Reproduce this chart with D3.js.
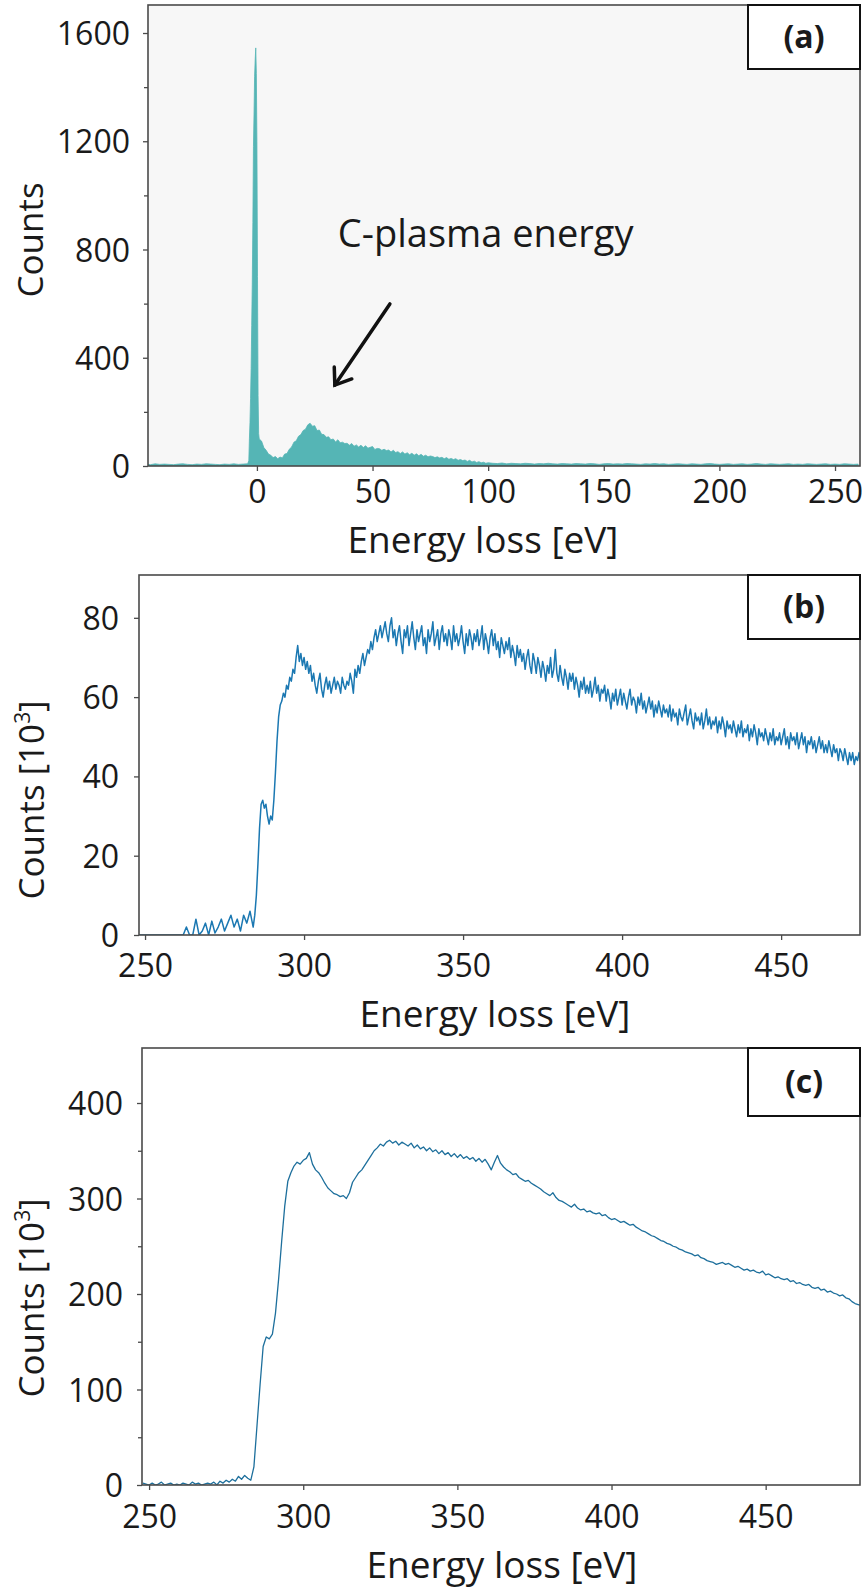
<!DOCTYPE html>
<html>
<head>
<meta charset="utf-8">
<script src="https://cdn.jsdelivr.net/npm/d3@7"></script>
<style>
  body { margin: 0; background: #ffffff; }
  svg text { font-family: "Open Sans", Lato, "Noto Sans", sans-serif; fill: #1a1a1a; }
</style>
</head>
<body>
<svg id="fig" width="862" height="1591"></svg>
<script>
// ---------- (a) low-loss spectrum: counts vs energy loss [eV] ----------
const energyA = [].concat(
  d3.range(-50, -3, 2),
  [-3.5, -3.25, -3, -2.75, -2.5, -2.25, -2, -1.75, -1.5, -1.25, -1, -0.75, -0.5, -0.25, 0, 0.25, 0.5, 0.75, 1],
  d3.range(2, 101, 1),
  d3.range(102, 261, 2)
);
const countsA = [
  // -50 .. -4
  6, 7, 5, 8, 6, 7, 6, 5, 7, 8, 6, 5, 7, 6, 8, 7, 6, 5, 7, 6, 8, 6, 7, 8,
  // zero-loss peak
  20, 100, 160, 250, 360, 520, 680, 900, 1180, 1300, 1440, 1500, 1545, 1450, 1200, 700, 260, 120, 100,
  // 2 .. 100
  92, 68, 58, 44, 40, 31, 35, 27, 33, 30,
  44, 46, 62, 70, 88, 93, 110, 116, 131, 136,
  152, 158, 147, 149, 131, 133, 117, 116, 106, 108,
  97, 100, 89, 97, 86, 88, 83, 84, 77, 83,
  73, 78, 70, 77, 68, 75, 66, 69, 72, 61,
  65, 64, 58, 62, 57, 59, 52, 58, 50, 53,
  46, 52, 44, 49, 42, 47, 40, 45, 38, 43,
  36, 40, 34, 37, 35, 31, 34, 30, 32, 27,
  31, 25, 28, 24, 27, 21, 24, 20, 22, 17,
  21, 15, 18, 13, 16, 12, 14, 10, 12,
  // 102 .. 260
  10, 9, 11, 8, 10, 9, 8, 10, 9, 7, 9, 8, 10, 8, 7, 9, 8, 7, 9, 8,
  7, 9, 8, 6, 8, 9, 7, 8, 7, 9, 8, 7, 6, 8, 7, 9, 7, 8, 6, 7,
  8, 7, 6, 8, 7, 6, 8, 9, 7, 6, 7, 8, 6, 7, 8, 6, 7, 9, 7, 6,
  8, 7, 6, 7, 8, 6, 7, 6, 8, 7, 6, 7, 8, 6, 7, 6, 8, 7, 6, 7
];
const xTicksA = [0, 50, 100, 150, 200, 250];
const yTicksA = [0, 400, 800, 1200, 1600];
const yMinorA = [200, 600, 1000, 1400];

// ---------- (b) C K-edge, counts [10^3] ----------
// 1 eV steps below the edge, 0.5 eV steps from 284 eV on
const energyB = [].concat(d3.range(248, 284, 1), d3.range(284, 475.6, 0.5));
const countsB = [
  // 248 .. 283
  0, 0, 0, 0, 0, 0, 0, 0, 0, 0, 0, 0, 0, 0,
  0, 2, 0, 0, 4, 0, 1, 3, 0, 3.5, 0.5, 2, 4, 1, 3, 5, 2, 4, 1, 5, 3, 6,
  // 284 .. 475.5
  2, 5, 10, 18, 27, 33, 34, 32, 33, 30,
  28, 30, 29, 34, 41, 49, 55, 58, 59, 61,
  60, 63, 62, 65, 64, 67, 66, 70, 73, 69,
  71, 68, 70, 67, 69, 66, 68, 64, 66, 63,
  61, 64, 66, 62, 60, 63, 65, 62, 64, 61,
  63, 65, 62, 64, 63, 61, 65, 63, 62, 64,
  63, 66, 64, 61, 67, 65, 68, 66, 69, 71,
  68, 70, 72, 71, 74, 72, 75, 77, 74, 76,
  78, 75, 77, 79, 76, 74, 78, 80, 75, 77,
  73, 76, 78, 74, 71, 77, 75, 78, 73, 76,
  79, 75, 72, 77, 74, 76, 78, 73, 75, 71,
  77, 74, 76, 79, 73, 75, 77, 72, 76, 78,
  74, 76, 73, 77, 75, 72, 78, 74, 76, 73,
  75, 78, 74, 71, 76, 73, 77, 75, 72, 76,
  74, 77, 73, 75, 78, 72, 76, 74, 71, 75,
  77, 73, 76, 72, 74, 70, 75, 73, 71, 74,
  72, 75, 70, 73, 71, 68, 73, 70, 72, 69,
  71, 67, 70, 72, 68, 66, 71, 69, 66, 70,
  68, 65, 69, 67, 64, 68, 66, 70, 65, 67,
  72, 66, 64, 68, 65, 63, 67, 65, 62, 66,
  64, 66, 62, 65, 63, 60, 64, 62, 65, 61,
  63, 61, 64, 60, 62, 65, 61, 63, 59, 62,
  61, 63, 59, 62, 60, 57, 61, 59, 62, 58,
  60, 62, 58, 61, 59, 57, 60, 62, 58, 60,
  59, 56, 60, 58, 61, 57, 59, 56, 58, 60,
  57, 59, 55, 58, 56, 59, 57, 55, 58, 56,
  57, 55, 58, 54, 57, 55, 56, 53, 57, 55,
  54, 56, 58, 53, 55, 57, 54, 52, 56, 54,
  55, 53, 56, 52, 54, 57, 53, 55, 52, 54,
  53, 55, 51, 54, 52, 55, 53, 50, 54, 52,
  53, 51, 54, 52, 50, 53, 51, 54, 50, 52,
  51, 53, 49, 52, 50, 53, 51, 48, 52, 50,
  51, 49, 52, 50, 48, 51, 49, 52, 48, 50,
  49, 51, 48, 50, 52, 48, 50, 47, 51, 49,
  50, 48, 51, 47, 49, 51, 48, 50, 46, 49,
  48, 50, 47, 49, 46, 48, 50, 47, 49, 46,
  48, 46, 49, 47, 45, 48, 46, 47, 44, 47,
  46, 44, 47, 45, 43, 46, 44, 46, 43, 45,
  44, 46, 43, 44
];
const xTicksB = [250, 300, 350, 400, 450];
const yTicksB = [0, 20, 40, 60, 80];

// ---------- (c) C K-edge, counts [10^3], 1 eV steps from 248 eV ----------
const energyStartC = 248;
const countsC = [
  2,
  1, 0, 2, 0, 1, 3, 0, 1, 2, 0,
  1, 0, 2, 1, 0, 3, 1, 2, 0, 1,
  2, 1, 3, 0, 4, 2, 5, 3, 6, 4,
  9, 6, 10, 7, 5,
  19, 62, 105, 145, 155, 153, 158, 180, 215, 255, 292, 318, 327, 334, 338, 336, 340,
  342, 348, 336, 330, 327, 322, 316, 311, 308, 305, 304, 302, 303, 300, 306, 317, 322, 327, 330, 335, 340, 345,
  350, 353, 357, 355, 359, 361, 358, 360, 356, 359,
  357, 355, 358, 353, 356, 352, 354, 350, 353, 349,
  351, 347, 350, 346, 348, 344, 347, 343, 346, 342,
  344, 341, 343, 339, 342, 338, 341, 336, 330, 338,
  345, 337, 333,
  330, 328, 325, 326, 322, 320, 318, 319, 316, 314,
  312, 310, 307, 305, 303, 306, 301, 298, 297, 295,
  293, 291, 294, 290, 288, 289, 286, 287, 285, 284,
  285, 282, 283, 280, 278, 279, 277, 275, 276, 274,
  272, 273, 270, 268, 266, 265, 263, 261, 260, 258,
  256, 255, 253, 252, 250, 249, 247, 246, 244, 243,
  242, 240, 241, 238, 237, 235, 234, 233, 231, 232,
  233, 231, 232, 230, 228, 229, 227, 225, 226, 224,
  225, 223, 222, 224, 220, 221, 219, 217, 218, 216,
  215, 216, 213, 214, 211, 212, 210, 209, 210, 207,
  206, 207, 204, 205, 202, 203, 201, 200, 198, 199,
  196, 195, 192, 190, 189, 188
];
const xTicksC = [250, 300, 350, 400, 450];
const yTicksC = [0, 100, 200, 300, 400];
const yMinorC = [50, 150, 250, 350];

const svg = d3.select("#fig");
const frameColor = "#4a4a4a";

function drawPanel(p) {
  const g = svg.append("g");
  const x = d3.scaleLinear().domain(p.xDomain).range([p.left, p.right]);
  const y = d3.scaleLinear().domain(p.yDomain).range([p.bottom, p.top]);

  g.append("rect")
    .attr("x", p.left).attr("y", p.top)
    .attr("width", p.right - p.left).attr("height", p.bottom - p.top)
    .attr("fill", p.bg);

  const clipId = "clip-" + p.id;
  g.append("clipPath").attr("id", clipId)
    .append("rect")
    .attr("x", p.left).attr("y", p.top)
    .attr("width", p.right - p.left).attr("height", p.bottom - p.top);

  const data = p.xs.map((e, i) => [e, p.ys[i]]);
  const body = g.append("g").attr("clip-path", `url(#${clipId})`);
  if (p.area) {
    body.append("path")
      .datum(data)
      .attr("fill", p.color)
      .attr("stroke", p.color)
      .attr("stroke-width", 0.8)
      .attr("d", d3.area().x(d => x(d[0])).y0(y(0)).y1(d => y(d[1])));
  } else {
    body.append("path")
      .datum(data)
      .attr("fill", "none")
      .attr("stroke", p.color)
      .attr("stroke-width", p.lineWidth)
      .attr("stroke-linejoin", "round")
      .attr("d", d3.line().x(d => x(d[0])).y(d => y(d[1])));
  }

  // axes
  const xAxis = g.append("g").attr("transform", `translate(0,${p.bottom})`)
    .call(d3.axisBottom(x).tickValues(p.xTicks).tickSize(5).tickSizeOuter(0).tickFormat(d3.format("d")));
  const yAxis = g.append("g").attr("transform", `translate(${p.left},0)`)
    .call(d3.axisLeft(y).tickValues(p.yTicks).tickSize(5).tickSizeOuter(0).tickFormat(d3.format("d")));
  if (p.yMinor) {
    g.append("g").attr("transform", `translate(${p.left},0)`)
      .call(d3.axisLeft(y).tickValues(p.yMinor).tickSize(4).tickSizeOuter(0).tickFormat(""))
      .call(a => a.select(".domain").remove())
      .call(a => a.selectAll("line").attr("stroke", frameColor).attr("stroke-width", 1.3));
  }
  [xAxis, yAxis].forEach(a => {
    a.select(".domain").remove();
    a.selectAll("line").attr("stroke", frameColor).attr("stroke-width", 1.3);
    a.selectAll("text").attr("font-size", 32).attr("fill", "#1a1a1a")
      .style("font-family", "'Open Sans', sans-serif");
  });
  xAxis.selectAll("text").attr("y", p.xTickDy).attr("dy", 0);
  yAxis.selectAll("text").attr("x", -p.yTickGap).attr("dy", "0.36em");

  // frame
  g.append("rect")
    .attr("x", p.left).attr("y", p.top)
    .attr("width", p.right - p.left).attr("height", p.bottom - p.top)
    .attr("fill", "none").attr("stroke", frameColor).attr("stroke-width", 1.6);

  // panel tag
  g.append("rect")
    .attr("x", p.right - p.tagW).attr("y", p.top)
    .attr("width", p.tagW).attr("height", p.tagH)
    .attr("fill", "#ffffff").attr("stroke", "#111111").attr("stroke-width", 2);
  g.append("text")
    .attr("x", p.right - p.tagW / 2).attr("y", p.top + p.tagH / 2 + 11)
    .attr("text-anchor", "middle").attr("font-size", 32).attr("font-weight", 700)
    .text(p.tag);

  // axis titles
  g.append("text")
    .attr("x", p.xLabelX).attr("y", p.xLabelY)
    .attr("text-anchor", "middle").attr("font-size", 37)
    .text("Energy loss [eV]");
  const yl = g.append("text")
    .attr("transform", `translate(${p.yLabelX},${p.yLabelY}) rotate(-90)`)
    .attr("text-anchor", "middle").attr("font-size", 35);
  yl.append("tspan").text(p.yLabel);
  if (p.yLabelExp) {
    yl.append("tspan").text(" [10");
    yl.append("tspan").attr("font-size", 21).attr("dy", -14).text("3");
    yl.append("tspan").attr("dy", 14).text("]");
  }
  return { x, y, g };
}

// (a)
const pa = drawPanel({
  id: "a", left: 148, right: 860, top: 5, bottom: 466,
  xDomain: [-47.1, 260.8], yDomain: [0, 1703.5], bg: "#f7f7f7",
  xs: energyA, ys: countsA, area: true, color: "#55b5b5",
  xTicks: xTicksA, yTicks: yTicksA, yMinor: yMinorA,
  xTickDy: 37, yTickGap: 18,
  tag: "(a)", tagW: 112, tagH: 64,
  xLabelX: 483, xLabelY: 553, yLabelX: 43, yLabelY: 240, yLabel: "Counts"
});

// annotation: plasmon peak
const arrowFrom = [57.5, 599], arrowTo = [33.7, 299];
const ax0 = pa.x(arrowFrom[0]), ay0 = pa.y(arrowFrom[1]);
const ax1 = pa.x(arrowTo[0]), ay1 = pa.y(arrowTo[1]);
const ang = Math.atan2(ay1 - ay0, ax1 - ax0);
const headLen = 18, headAng = Math.PI / 5;
pa.g.append("line")
  .attr("x1", ax0).attr("y1", ay0).attr("x2", ax1).attr("y2", ay1)
  .attr("stroke", "#111").attr("stroke-width", 3.5).attr("stroke-linecap", "round");
pa.g.append("path")
  .attr("d", `M${ax1 - headLen * Math.cos(ang - headAng)},${ay1 - headLen * Math.sin(ang - headAng)} L${ax1},${ay1} L${ax1 - headLen * Math.cos(ang + headAng)},${ay1 - headLen * Math.sin(ang + headAng)}`)
  .attr("fill", "none").attr("stroke", "#111").attr("stroke-width", 3.5)
  .attr("stroke-linecap", "round").attr("stroke-linejoin", "miter");
pa.g.append("text")
  .attr("x", pa.x(35)).attr("y", pa.y(809))
  .attr("font-size", 38)
  .text("C-plasma energy");

// (b)
drawPanel({
  id: "b", left: 139, right: 860, top: 575, bottom: 935,
  xDomain: [248.1, 474.8], yDomain: [0, 90.8], bg: "#ffffff",
  xs: energyB, ys: countsB, area: false,
  color: "#1b78b2", lineWidth: 1.5,
  xTicks: xTicksB, yTicks: yTicksB,
  xTickDy: 42, yTickGap: 20,
  tag: "(b)", tagW: 112, tagH: 64,
  xLabelX: 495, xLabelY: 1027, yLabelX: 44, yLabelY: 800, yLabel: "Counts", yLabelExp: true
});

// (c)
drawPanel({
  id: "c", left: 142, right: 860, top: 1048, bottom: 1485,
  xDomain: [247.7, 480.6], yDomain: [0, 457.6], bg: "#ffffff",
  xs: countsC.map((_, i) => energyStartC + i), ys: countsC, area: false,
  color: "#1d6f9c", lineWidth: 1.3,
  xTicks: xTicksC, yTicks: yTicksC, yMinor: yMinorC,
  xTickDy: 43, yTickGap: 19,
  tag: "(c)", tagW: 112, tagH: 68,
  xLabelX: 502, xLabelY: 1578, yLabelX: 44, yLabelY: 1298, yLabel: "Counts", yLabelExp: true
});
</script>
</body>
</html>
